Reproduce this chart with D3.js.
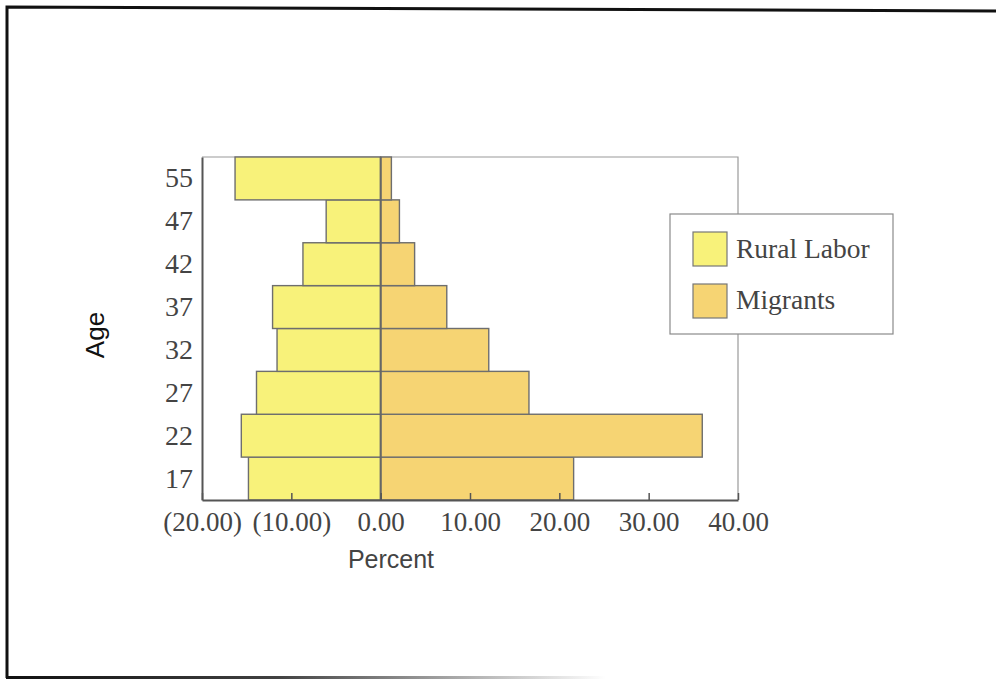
<!DOCTYPE html>
<html>
<head>
<meta charset="utf-8">
<script src="https://cdn.jsdelivr.net/npm/d3@7"></script>
<style>
  html, body { margin: 0; padding: 0; background: #fff; }
  svg { display: block; }
</style>
</head>
<body>
<svg id="chart" width="996" height="679"></svg>
<script>
const ages = ["17", "22", "27", "32", "37", "42", "47", "55"];
const ruralLabor = [-14.8, -15.6, -13.9, -11.6, -12.1, -8.7, -6.1, -16.3];
const migrants = [21.6, 36.0, 16.6, 12.1, 7.4, 3.8, 2.1, 1.2];
const xTicks = [-20, -10, 0, 10, 20, 30, 40];
const seriesNames = ["Rural Labor", "Migrants"];
const seriesColors = ["#f8f27a", "#f6d473"];

const svg = d3.select("#chart");

// scanned page frame
svg.append("path")
  .attr("d", "M7,678 L7,7 L996,11")
  .attr("fill", "none").attr("stroke", "#111").attr("stroke-width", 3);
const grad = svg.append("defs").append("linearGradient").attr("id", "fade");
grad.append("stop").attr("offset", "0").attr("stop-color", "#111").attr("stop-opacity", 1);
grad.append("stop").attr("offset", "0.45").attr("stop-color", "#111").attr("stop-opacity", 0.8);
grad.append("stop").attr("offset", "1").attr("stop-color", "#111").attr("stop-opacity", 0);
svg.append("rect").attr("x", 6).attr("y", 676).attr("width", 600).attr("height", 3).attr("fill", "url(#fade)");

const pLeft = 202, pRight = 738, pTop = 157, pBottom = 500;
const x = d3.scaleLinear().domain([-20, 40]).range([pLeft, pRight]);
const y = d3.scaleBand().domain(ages).range([pBottom, pTop]).padding(0);

const g = svg.append("g");

// frame top/right (light)
g.append("path")
  .attr("d", `M${pLeft},${pTop} L${pRight},${pTop} L${pRight},${pBottom}`)
  .attr("fill", "none").attr("stroke", "#9a9a9a").attr("stroke-width", 1.2);

const barStroke = "#6e6e6e";
g.selectAll("rect.rural").data(ages).join("rect")
  .attr("class", "rural")
  .attr("x", (d, i) => x(ruralLabor[i]))
  .attr("y", d => y(d))
  .attr("width", (d, i) => x(0) - x(ruralLabor[i]))
  .attr("height", y.bandwidth())
  .attr("fill", seriesColors[0]).attr("stroke", barStroke).attr("stroke-width", 1.4);

g.selectAll("rect.mig").data(ages).join("rect")
  .attr("class", "mig")
  .attr("x", x(0))
  .attr("y", d => y(d))
  .attr("width", (d, i) => x(migrants[i]) - x(0))
  .attr("height", y.bandwidth())
  .attr("fill", seriesColors[1]).attr("stroke", barStroke).attr("stroke-width", 1.4);

// zero line
g.append("line")
  .attr("x1", x(0)).attr("x2", x(0)).attr("y1", pTop).attr("y2", pBottom)
  .attr("stroke", "#666").attr("stroke-width", 2);

// bottom axis
const fmt = v => v < 0 ? `(${Math.abs(v).toFixed(2)})` : v.toFixed(2);
const xAxis = d3.axisBottom(x).tickValues(xTicks).tickFormat(fmt).tickSizeInner(-7).tickSizeOuter(0).tickPadding(12);
const xa = g.append("g").attr("transform", `translate(0,${pBottom})`).call(xAxis);
xa.select(".domain").attr("stroke", "#555").attr("stroke-width", 2);
xa.selectAll(".tick line").attr("stroke", "#555").attr("stroke-width", 1.5);
xa.selectAll(".tick text")
  .attr("font-family", "'Liberation Serif', 'DejaVu Serif', serif")
  .attr("font-size", 27).attr("fill", "#444");

// left axis
const yAxis = d3.axisLeft(y).tickSize(0).tickPadding(9);
const ya = g.append("g").attr("transform", `translate(${pLeft},0)`).call(yAxis);
ya.select(".domain").attr("stroke", "#555").attr("stroke-width", 2);
ya.selectAll(".tick text")
  .attr("font-family", "'Liberation Serif', 'DejaVu Serif', serif")
  .attr("font-size", 28).attr("fill", "#444");

// axis titles
svg.append("text").attr("x", 391).attr("y", 568).attr("text-anchor", "middle")
  .attr("font-family", "'Liberation Sans', Arial, sans-serif").attr("font-size", 25)
  .attr("fill", "#444").text("Percent");
svg.append("text").attr("transform", "translate(104,335) rotate(-90)").attr("text-anchor", "middle")
  .attr("font-family", "'Liberation Sans', Arial, sans-serif").attr("font-size", 26)
  .attr("fill", "#111").text("Age");

// legend
const lg = svg.append("g").attr("transform", "translate(670,214)");
lg.append("rect").attr("width", 223).attr("height", 120)
  .attr("fill", "#fff").attr("stroke", "#8a8a8a").attr("stroke-width", 1.2);
seriesNames.forEach((name, i) => {
  lg.append("rect").attr("x", 23).attr("y", 18 + i * 52).attr("width", 34).attr("height", 34)
    .attr("fill", seriesColors[i]).attr("stroke", "#777").attr("stroke-width", 1.2);
  lg.append("text").attr("x", 66).attr("y", 44 + i * 51)
    .attr("font-family", "'Liberation Serif', 'DejaVu Serif', serif").attr("font-size", 27.5)
    .attr("fill", "#444").text(name);
});
</script>
</body>
</html>
